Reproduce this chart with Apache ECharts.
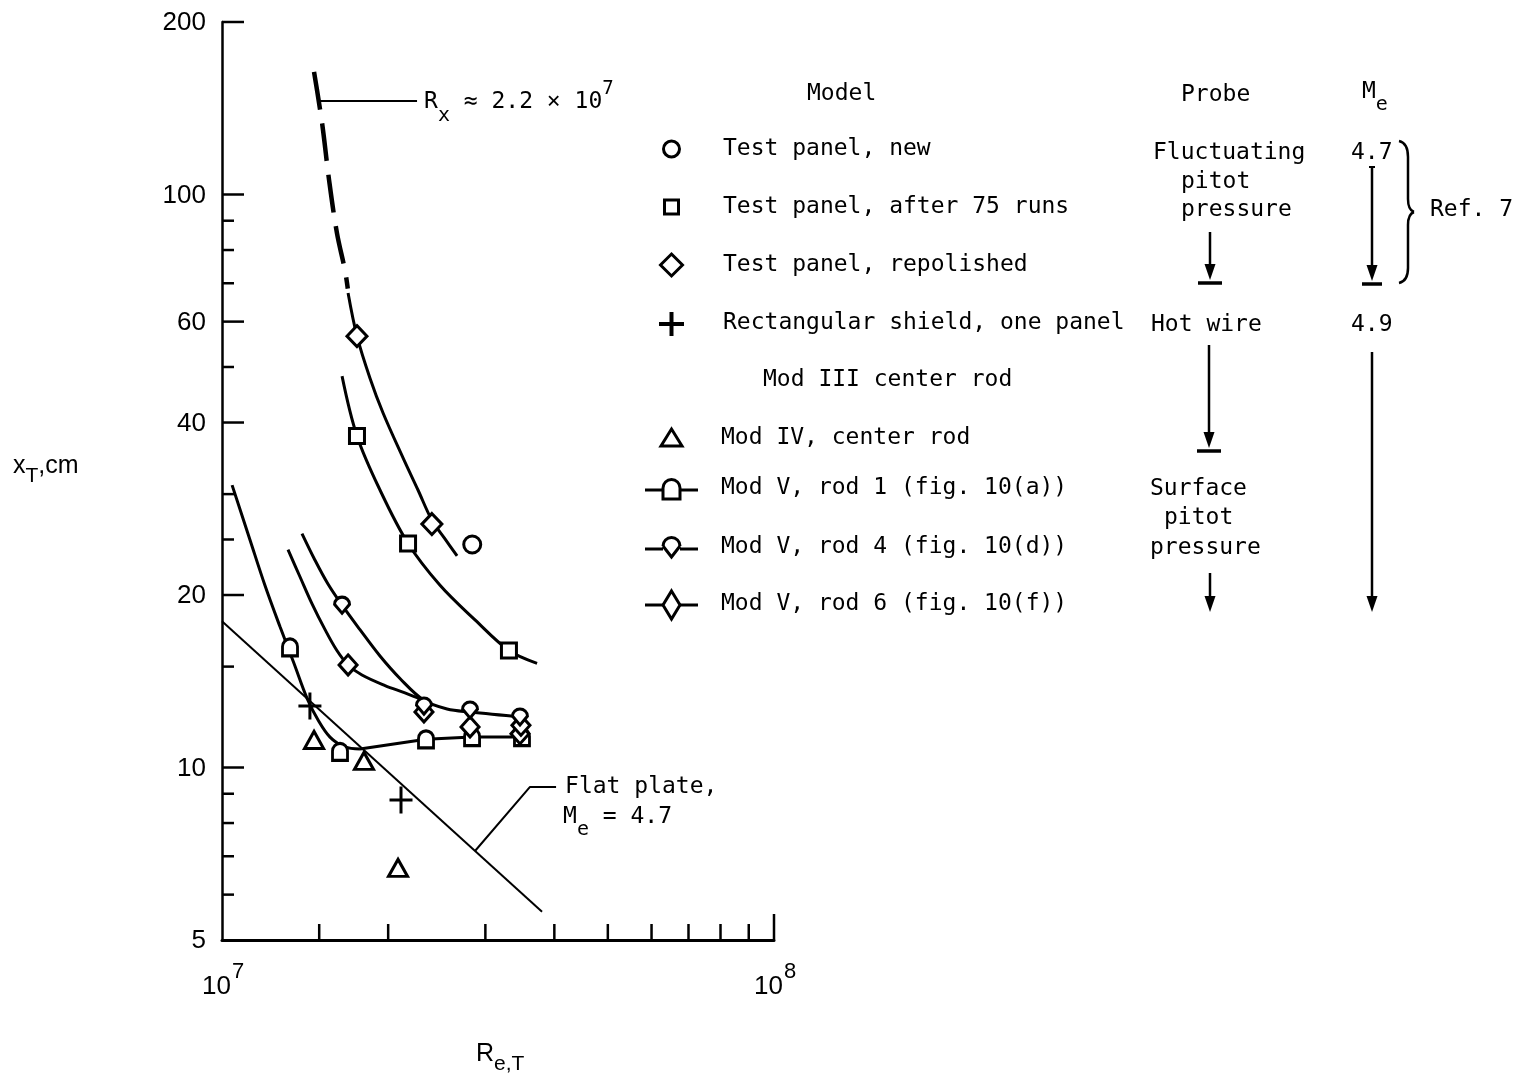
<!DOCTYPE html>
<html>
<head>
<meta charset="utf-8">
<title>Transition location versus transition Reynolds number</title>
<script src="https://cdn.jsdelivr.net/npm/echarts@6.0.0/dist/echarts.min.js"></script>
<style>
html, body { margin: 0; padding: 0; background: #fff; }
#chart { width: 1521px; height: 1081px; }
</style>
</head>
<body>
<div id="chart"></div>
<script>
// ---- axis ticks and tick labels ----
const xMinorTicks = [1.5e7, 2e7, 3e7, 4e7, 5e7, 6e7, 7e7, 8e7, 9e7];
const xMajorTicks = [1e8];
const xTickLabels = [1e7, 1e8];
const yMajorTicks = [10, 20, 40, 60, 100, 200];
const yMinorTicks = [6, 7, 8, 9, 15, 25, 30, 50, 70, 80, 90];
const yTickLabels = [5, 10, 20, 40, 60, 100, 200];

// ---- measured transition points: [Re_T, x_T in cm] ----
const testPanelNew = [[2.84e7, 24.5]];
const testPanelRuns = [[1.756e7, 37.9], [2.173e7, 24.6], [3.31e7, 16.0]];
const testPanelRepolished = [[1.756e7, 56.6], [2.40e7, 26.6]];
const rectShield = [[1.443e7, 12.8], [2.11e7, 8.78]];
const modIVRod = [[1.468e7, 11.17], [1.808e7, 10.27], [2.084e7, 6.68]];
const modVRod1 = [[1.328e7, 16.2], [1.636e7, 10.65], [2.342e7, 11.2], [2.838e7, 11.3], [3.495e7, 11.3]];
const modVRod4 = [[1.650e7, 19.2], [2.322e7, 12.8], [2.814e7, 12.6], [3.466e7, 12.25]];
const modVRod6 = [[1.692e7, 15.1], [2.322e7, 12.5], [2.814e7, 11.77], [3.466e7, 11.45], [3.48e7, 11.85]];

// ---- faired curves through the data ----
const fairRepolishedDashed = [[1.468e7, 163.6], [1.518e7, 133.3], [1.563e7, 106.0], [1.615e7, 85.7], [1.670e7, 73.8], [1.690e7, 68.5]];
const fairRepolished = [[1.692e7, 67.3], [1.756e7, 56.6], [1.854e7, 47.8], [1.957e7, 41.6], [2.128e7, 34.7], [2.265e7, 30.5], [2.401e7, 27.0], [2.535e7, 25.05], [2.666e7, 23.4]];
const fairRuns = [[1.65e7, 48.2], [1.756e7, 37.9], [1.933e7, 30.5], [2.173e7, 24.6], [2.483e7, 20.8], [2.873e7, 18.1], [3.311e7, 16.0], [3.722e7, 15.2]];
const fairRod1 = [[1.043e7, 31.1], [1.124e7, 24.95], [1.196e7, 20.8], [1.274e7, 17.6], [1.350e7, 15.2], [1.426e7, 13.2], [1.493e7, 12.1], [1.569e7, 11.3], [1.670e7, 10.86], [1.778e7, 10.77]];
const fairRod1Flat = [[1.778e7, 10.77], [2.342e7, 11.2], [2.838e7, 11.3], [3.495e7, 11.3]];
const fairRod4 = [[1.396e7, 25.6], [1.474e7, 23.0], [1.556e7, 20.9], [1.650e7, 19.2], [1.778e7, 17.4], [1.933e7, 15.65], [2.101e7, 14.3], [2.322e7, 13.1], [2.557e7, 12.65], [2.814e7, 12.5], [3.495e7, 12.25]];
const fairRod6 = [[1.317e7, 24.0], [1.385e7, 21.5], [1.456e7, 19.3], [1.537e7, 17.4], [1.615e7, 16.0], [1.692e7, 15.1], [1.793e7, 14.5], [1.974e7, 13.9], [2.145e7, 13.5], [2.322e7, 13.1]];

// flat-plate correlation, Me = 4.7
const flatPlate = [[1e7, 18.0], [3.8e7, 5.6]];
// leader lines for the annotations
const flatPlateLeader = [[2.873e7, 7.15], [3.614e7, 9.25], [4.029e7, 9.25]];
const rxLeader = [[1.505e7, 146], [2.256e7, 146]];

const X_MIN = 1e7, X_MAX = 1e8, Y_MIN = 5, Y_MAX = 200;
const INK = '#000';
const MONO = '"DejaVu Sans Mono", "Liberation Mono", monospace';
const SANS = '"Liberation Sans", Arial, sans-serif';

const SYM_ARCH = 'path://M0,20L0,9A9,9,0,0,1,18,9L18,20Z';
const SYM_DROP = 'path://M0,8.5A8.5,8.5,0,0,1,17,8.5L8.5,19Z';
const SYM_PLUS = 'path://M10,0h3v12h10v3h-10v12h-3v-12h-10v-3h10z';

const chart = echarts.init(document.getElementById('chart'), null, { renderer: 'canvas' });

const hollow = { color: '#fff', borderColor: INK, borderWidth: 3, opacity: 1 };

function curve(name, data, width, dash) {
  return {
    name, type: 'line', data, smooth: 0.35, showSymbol: false, silent: true, z: 2,
    lineStyle: { color: INK, width, type: dash || 'solid', opacity: 1 }
  };
}
function marks(name, data, symbol, size, style) {
  return {
    name, type: 'scatter', data, symbol, symbolSize: size, silent: true, z: 4,
    itemStyle: style || hollow
  };
}
function tickSeries(values, dir, len, width) {
  return {
    type: 'custom', coordinateSystem: 'cartesian2d', silent: true, z: 6, clip: false,
    data: values.map(v => dir === 'y' ? [X_MIN, v] : [v, Y_MIN]),
    renderItem: (params, api) => {
      const p = api.coord([api.value(0), api.value(1)]);
      const shape = dir === 'y'
        ? { x1: p[0], y1: p[1], x2: p[0] + len, y2: p[1] }
        : { x1: p[0], y1: p[1], x2: p[0], y2: p[1] - len };
      return { type: 'line', shape, style: { stroke: INK, lineWidth: width } };
    }
  };
}
function yLabelSeries(values) {
  return {
    type: 'custom', coordinateSystem: 'cartesian2d', silent: true, z: 6, clip: false,
    data: values.map(v => [X_MIN, v]),
    renderItem: (params, api) => {
      const p = api.coord([api.value(0), api.value(1)]);
      return {
        type: 'text',
        style: { text: String(api.value(1)), x: p[0] - 16, y: p[1] + 1, align: 'right', verticalAlign: 'middle', font: '26px ' + SANS, fill: INK }
      };
    }
  };
}
function xLabelSeries(values) {
  return {
    type: 'custom', coordinateSystem: 'cartesian2d', silent: true, z: 6, clip: false,
    data: values.map(v => [v, Y_MIN]),
    renderItem: (params, api) => {
      const p = api.coord([api.value(0), api.value(1)]);
      const exp = Math.round(Math.log10(api.value(0)));
      return {
        type: 'group',
        children: [
          { type: 'text', style: { text: '10', x: p[0] + 9, y: p[1] + 47, align: 'right', verticalAlign: 'middle', font: '26px ' + SANS, fill: INK } },
          { type: 'text', style: { text: String(exp), x: p[0] + 10, y: p[1] + 32, align: 'left', verticalAlign: 'middle', font: '22px ' + SANS, fill: INK } }
        ]
      };
    }
  };
}

const option = {
  animation: false,
  backgroundColor: '#fff',
  grid: { left: 222, top: 22, width: 552, height: 918 },
  xAxis: {
    type: 'log', logBase: 10, min: X_MIN, max: X_MAX,
    axisLine: { show: true, onZero: false, lineStyle: { color: INK, width: 3 } },
    axisTick: { show: false }, axisLabel: { show: false },
    splitLine: { show: false }, minorTick: { show: false }, minorSplitLine: { show: false }
  },
  yAxis: {
    type: 'log', logBase: 10, min: Y_MIN, max: Y_MAX,
    axisLine: { show: true, onZero: false, lineStyle: { color: INK, width: 2.5 } },
    axisTick: { show: false }, axisLabel: { show: false },
    splitLine: { show: false }, minorTick: { show: false }, minorSplitLine: { show: false }
  },
  series: [
    { name: 'Flat plate', type: 'line', data: flatPlate, showSymbol: false, silent: true, z: 1,
      lineStyle: { color: INK, width: 2 } },
    { name: 'Flat plate leader', type: 'line', data: flatPlateLeader, showSymbol: false, silent: true, z: 1,
      lineStyle: { color: INK, width: 2 } },
    { name: 'Rx leader', type: 'line', data: [], silent: true,
      markLine: {
        silent: true, animation: false, symbol: ['none', 'arrow'], symbolSize: [0, 10],
        label: { show: false }, lineStyle: { color: INK, width: 2, type: 'solid' },
        data: [[{ coord: rxLeader[0] }, { coord: rxLeader[1] }]]
      } },
    curve('Repolished (extrapolated)', fairRepolishedDashed, 4.5, [38, 14]),
    curve('Repolished fairing', fairRepolished, 3),
    curve('After 75 runs fairing', fairRuns, 3),
    curve('Rod 1 fairing', fairRod1, 3),
    { name: 'Rod 1 fairing, flat', type: 'line', data: fairRod1Flat, showSymbol: false, silent: true, z: 2,
      lineStyle: { color: INK, width: 3 } },
    curve('Rod 4 fairing', fairRod4, 3),
    curve('Rod 6 fairing', fairRod6, 3),
    marks('Mod V, rod 1', modVRod1, SYM_ARCH, [15, 17]),
    marks('Mod V, rod 6', modVRod6, 'diamond', [18, 20]),
    marks('Mod V, rod 4', modVRod4, SYM_DROP, [15, 16]),
    marks('Test panel, new', testPanelNew, 'circle', 17),
    marks('Test panel, after 75 runs', testPanelRuns, 'rect', 15),
    marks('Test panel, repolished', testPanelRepolished, 'diamond', [20, 21]),
    marks('Mod IV, center rod', modIVRod, 'triangle', [19, 17]),
    marks('Rectangular shield, one panel', rectShield, SYM_PLUS, [23, 27], { color: INK, borderWidth: 0, opacity: 1 }),
    tickSeries(yMajorTicks, 'y', 22, 2.5),
    tickSeries(yMinorTicks, 'y', 12, 2.5),
    tickSeries(xMinorTicks, 'x', 16, 2.5),
    tickSeries(xMajorTicks, 'x', 26, 2.5),
    yLabelSeries(yTickLabels),
    xLabelSeries(xTickLabels)
  ]
};

chart.setOption(option);

// ---- text and key drawn around the plot ----
function txt(x, y, s, size, extra) {
  return { type: 'text', silent: true, z: 10,
    style: Object.assign({ text: s, x, y, fill: INK, font: (size || 23) + 'px ' + MONO, align: 'left', verticalAlign: 'middle' }, extra || {}) };
}
function richTxt(x, y, s, rich) {
  return { type: 'text', silent: true, z: 10,
    style: { text: s, x, y, fill: INK, align: 'left', verticalAlign: 'middle', rich } };
}
function seg(x1, y1, x2, y2, w) {
  return { type: 'line', silent: true, z: 10, shape: { x1, y1, x2, y2 }, style: { stroke: INK, lineWidth: w || 2.5 } };
}
function head(x, tipY) {
  return { type: 'polygon', silent: true, z: 10, shape: { points: [[x - 5.5, tipY - 16], [x + 5.5, tipY - 16], [x, tipY]] }, style: { fill: INK } };
}
function arrow(x, y1, tipY, barHalf) {
  const out = [seg(x, y1, x, tipY - 6, 2.5), head(x, tipY)];
  if (barHalf) out.push(seg(x - barHalf, tipY + 3, x + barHalf, tipY + 3, 3.5));
  return out;
}
const hollowStyle = { fill: '#fff', stroke: INK, lineWidth: 3 };
const strokeStyle = { fill: null, stroke: INK, lineWidth: 3 };

const monoRich = {
  m: { font: '23px ' + MONO, fill: INK, lineHeight: 46, verticalAlign: 'middle' },
  sub: { font: '20px ' + MONO, fill: INK, lineHeight: 20, verticalAlign: 'bottom' },
  sup: { font: '19px ' + MONO, fill: INK, lineHeight: 20, verticalAlign: 'top' }
};
const sansRich = {
  m: { font: '25px ' + SANS, fill: INK, lineHeight: 42, verticalAlign: 'middle' },
  sub: { font: '21px ' + SANS, fill: INK, lineHeight: 20, verticalAlign: 'bottom' }
};

function buildGraphics() {
  const g = [];
  const toPx = v => chart.convertToPixel({ gridIndex: 0 }, v);

  // annotation on the extrapolated curve
  const rx = toPx(rxLeader[1]);
  g.push(richTxt(rx[0] + 7, rx[1] + 2, '{m|R}{sub|x}{m| ≈ 2.2 × 10}{sup|7}', monoRich));

  // flat-plate label
  const fp = toPx(flatPlateLeader[2]);
  g.push(txt(fp[0] + 9, fp[1], 'Flat plate,'));
  g.push(richTxt(fp[0] + 7, fp[1] + 30, '{m|M}{sub|e}{m| = 4.7}', monoRich));

  // axis titles
  g.push(richTxt(13, 466, '{m|x}{sub|T}{m|,cm}', sansRich));
  g.push(richTxt(476, 1054, '{m|R}{sub|e,T}', sansRich));

  // key: model column
  g.push(txt(807, 94, 'Model'));
  g.push({ type: 'circle', silent: true, z: 10, shape: { cx: 671.5, cy: 149, r: 8 }, style: hollowStyle });
  g.push(txt(723, 149, 'Test panel, new'));
  g.push({ type: 'rect', silent: true, z: 10, shape: { x: 664.5, y: 200, width: 14, height: 14 }, style: hollowStyle });
  g.push(txt(723, 207, 'Test panel, after 75 runs'));
  g.push({ type: 'polygon', silent: true, z: 10, shape: { points: [[671.5, 254], [682.5, 265], [671.5, 276], [660.5, 265]] }, style: hollowStyle });
  g.push(txt(723, 265, 'Test panel, repolished'));
  g.push(seg(659, 324, 684, 324, 4), seg(671.5, 312, 671.5, 336, 4));
  g.push(txt(723, 323, 'Rectangular shield, one panel'));
  g.push(txt(763, 380, 'Mod III center rod'));
  g.push({ type: 'polygon', silent: true, z: 10, shape: { points: [[671.5, 429], [682, 446], [661, 446]] }, style: hollowStyle });
  g.push(txt(721, 438, 'Mod IV, center rod'));

  // rod 1 key symbol
  g.push(seg(645, 490, 663, 490, 3), seg(680, 490, 698, 490, 3));
  g.push({ type: 'arc', silent: true, z: 10, shape: { cx: 671.5, cy: 488, r: 8.5, startAngle: Math.PI, endAngle: 2 * Math.PI, clockwise: true }, style: strokeStyle });
  g.push({ type: 'polyline', silent: true, z: 10, shape: { points: [[663, 488], [663, 499], [680, 499], [680, 488]] }, style: strokeStyle });
  g.push(txt(721, 488, 'Mod V, rod 1 (fig. 10(a))'));
  // rod 4 key symbol
  g.push(seg(645, 549, 663, 549, 3), seg(680, 549, 698, 549, 3));
  g.push({ type: 'arc', silent: true, z: 10, shape: { cx: 671.5, cy: 546, r: 8.5, startAngle: Math.PI, endAngle: 2 * Math.PI, clockwise: true }, style: strokeStyle });
  g.push({ type: 'polyline', silent: true, z: 10, shape: { points: [[663, 546], [671.5, 557], [680, 546]] }, style: strokeStyle });
  g.push(txt(721, 547, 'Mod V, rod 4 (fig. 10(d))'));
  // rod 6 key symbol
  g.push(seg(645, 605, 663, 605, 3), seg(680, 605, 698, 605, 3));
  g.push({ type: 'polygon', silent: true, z: 10, shape: { points: [[671.5, 591], [680, 605], [671.5, 619], [663, 605]] }, style: hollowStyle });
  g.push(txt(721, 604, 'Mod V, rod 6 (fig. 10(f))'));

  // key: probe column
  g.push(txt(1181, 95, 'Probe'));
  g.push(txt(1153, 153, 'Fluctuating'));
  g.push(txt(1181, 182, 'pitot'));
  g.push(txt(1181, 210, 'pressure'));
  g.push(...arrow(1210, 232, 280, 12));
  g.push(txt(1151, 325, 'Hot wire'));
  g.push(...arrow(1209, 345, 448, 12));
  g.push(txt(1150, 489, 'Surface'));
  g.push(txt(1164, 518, 'pitot'));
  g.push(txt(1150, 548, 'pressure'));
  g.push(...arrow(1210, 573, 612, 0));

  // key: edge Mach number column
  g.push(richTxt(1362, 92, '{m|M}{sub|e}', monoRich));
  g.push(txt(1351, 153, '4.7'));
  g.push(seg(1369, 167, 1375, 167, 2));
  g.push(...arrow(1372, 167, 281, 10));
  g.push(txt(1351, 325, '4.9'));
  g.push(...arrow(1372, 352, 612, 0));

  // brace grouping the reference-7 rows
  const bz = (x1, y1, cx, cy, x2, y2) => ({ type: 'bezierCurve', silent: true, z: 10,
    shape: { x1, y1, x2, y2, cpx1: cx, cpy1: cy }, style: { stroke: INK, lineWidth: 2.5, fill: null } });
  g.push(bz(1399, 141, 1408, 143, 1408, 157));
  g.push(seg(1408, 157, 1408, 199, 2.5));
  g.push(bz(1408, 199, 1408, 210, 1414, 212));
  g.push(bz(1414, 212, 1408, 214, 1408, 225));
  g.push(seg(1408, 225, 1408, 268, 2.5));
  g.push(bz(1408, 268, 1408, 281, 1399, 283));
  g.push(txt(1430, 210, 'Ref. 7'));

  return g;
}

chart.setOption({ graphic: buildGraphics() });
</script>
</body>
</html>
